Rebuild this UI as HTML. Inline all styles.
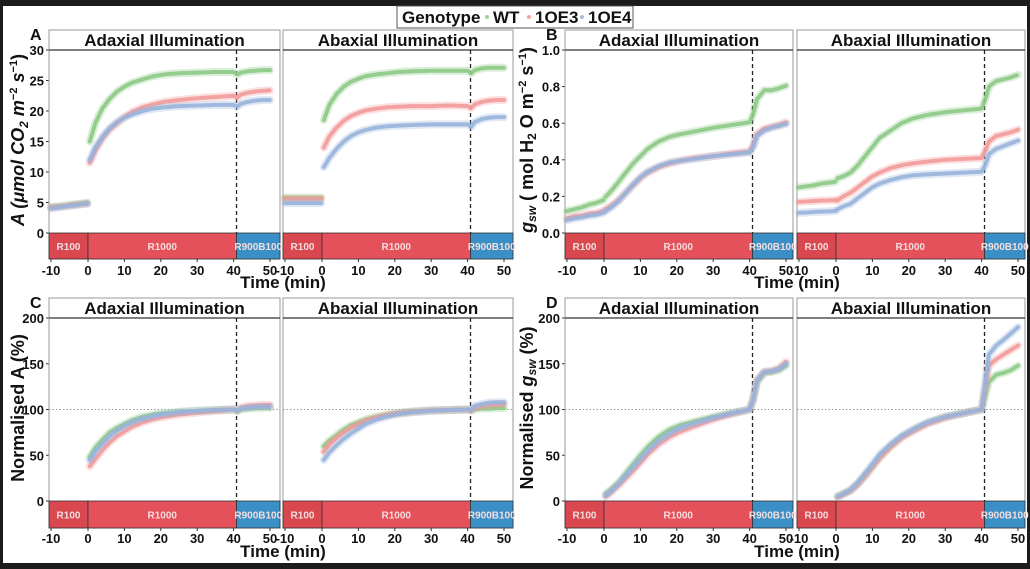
<!DOCTYPE html>
<html><head><meta charset="utf-8">
<style>
html,body{margin:0;padding:0;background:#1c1c1c;}
svg{display:block;font-family:"Liberation Sans",Arial,sans-serif;}
</style></head>
<body>
<svg id="chart" width="1030" height="569" viewBox="0 0 1030 569" xmlns="http://www.w3.org/2000/svg">
<rect x="3" y="6" width="1024" height="557" fill="#ffffff"/>
<g>
<rect x="397" y="6" width="236" height="22" fill="#fff" stroke="#555" stroke-width="1"/>
<text x="402" y="23" font-size="17" font-weight="bold" fill="#111">Genotype</text>
<circle cx="487" cy="17" r="2" fill="#9fd09a"/>
<text x="493" y="23" font-size="17" font-weight="bold" fill="#111">WT</text>
<circle cx="529" cy="17" r="2" fill="#f3a3a3"/>
<text x="535" y="23" font-size="17" font-weight="bold" fill="#111">1OE3</text>
<circle cx="582" cy="17" r="2" fill="#a6bde0"/>
<text x="588" y="23" font-size="17" font-weight="bold" fill="#111">1OE4</text>
</g>
</svg>
<script>
// shared time points (min)
const times = [-10,-8,-6,-4,-2,-0.2, 0.5,2,4,6,8,10,12,15,18,21,25,30,35,40,41,42,44,46,48,50];
const genotypes = ["WT","1OE3","1OE4"];
const xTicks = [-10,0,10,20,30,40,50];
const yTicksA = [0,5,10,15,20,25,30];
const yTicksB = [0,0.2,0.4,0.6,0.8,1.0];
const yTicksN = [0,50,100,150,200];

// Panel A: net assimilation
const A_ad_WT   = [4.3,4.4,4.5,4.7,4.8,5.0, 15,18,20.5,22,23.2,24,24.6,25.2,25.7,26,26.2,26.3,26.4,26.4, 26,26.3,26.5,26.6,26.7,26.7];
const A_ad_1OE3 = [4.2,4.3,4.4,4.6,4.7,4.8, 11.5,13.5,15.5,17,18,19,19.8,20.6,21.1,21.5,21.8,22.1,22.3,22.5, 22.2,22.7,23,23.2,23.3,23.4];
const A_ad_1OE4 = [4.0,4.2,4.4,4.5,4.7,4.8, 12,14,15.8,17.2,18.2,18.9,19.4,20,20.4,20.6,20.8,20.9,21,21, 20.7,21.2,21.5,21.7,21.8,21.8];
const A_ab_WT   = [5.8,5.8,5.8,5.8,5.8,5.8, 18.5,21,22.8,24,24.8,25.3,25.7,26,26.2,26.4,26.5,26.6,26.6,26.6, 26.2,26.7,27,27.1,27.1,27.1];
const A_ab_1OE3 = [5.6,5.6,5.6,5.6,5.6,5.6, 14,15.8,17.3,18.4,19.2,19.7,20.1,20.4,20.6,20.7,20.8,20.8,20.9,20.8, 20.5,21.1,21.5,21.7,21.8,21.8];
const A_ab_1OE4 = [4.9,4.9,4.9,4.9,4.9,4.9, 10.8,12.3,13.8,15,15.9,16.5,16.9,17.3,17.5,17.6,17.7,17.8,17.8,17.8, 17.4,18.2,18.7,18.9,19,19];
// Panel B: stomatal conductance
const B_ad_WT   = [0.12,0.13,0.14,0.155,0.165,0.18, 0.2,0.23,0.28,0.33,0.38,0.42,0.46,0.5,0.525,0.54,0.555,0.575,0.59,0.605, 0.65,0.73,0.78,0.78,0.79,0.805];
const B_ad_1OE3 = [0.08,0.09,0.095,0.105,0.11,0.12, 0.13,0.15,0.18,0.22,0.26,0.3,0.33,0.36,0.38,0.395,0.41,0.42,0.435,0.445, 0.48,0.54,0.57,0.58,0.59,0.605];
const B_ad_1OE4 = [0.07,0.08,0.085,0.095,0.1,0.11, 0.12,0.14,0.175,0.22,0.265,0.305,0.335,0.365,0.385,0.395,0.405,0.42,0.43,0.44, 0.47,0.53,0.56,0.575,0.585,0.595];
const B_ab_WT   = [0.25,0.255,0.26,0.27,0.275,0.28, 0.3,0.31,0.33,0.37,0.42,0.47,0.52,0.56,0.6,0.625,0.645,0.66,0.67,0.68, 0.73,0.8,0.83,0.84,0.85,0.865];
const B_ab_1OE3 = [0.17,0.172,0.175,0.177,0.178,0.18, 0.18,0.2,0.22,0.25,0.28,0.31,0.33,0.355,0.37,0.38,0.39,0.4,0.405,0.41, 0.45,0.5,0.53,0.54,0.55,0.565];
const B_ab_1OE4 = [0.11,0.112,0.115,0.117,0.118,0.12, 0.13,0.145,0.16,0.19,0.22,0.25,0.27,0.29,0.305,0.315,0.32,0.325,0.33,0.335, 0.37,0.43,0.46,0.475,0.49,0.505];
// Panel C: normalised A (%)
const C_ad_WT   = [null,null,null,null,null,null, 48,58,67,75,80,84,88,92,94.5,96,97.5,98.5,99.5,100, 98,100,101,101.5,102,102];
const C_ad_1OE3 = [null,null,null,null,null,null, 38,46,56,64,71,76,81,86,89.5,92,94.5,96.5,98.5,100, 99,102,104,104.5,105,105];
const C_ad_1OE4 = [null,null,null,null,null,null, 45,54,63,71,77,82,86,90,93,95,97,98.5,99.5,100, 99,101,102,103,103,103];
const C_ab_WT   = [null,null,null,null,null,null, 60,66,72,78,83,86,89,92,94.5,96.5,98,99,99.5,100, 99,100,101,101,101.5,101.5];
const C_ab_1OE3 = [null,null,null,null,null,null, 54,62,69,75,80,84,88,91.5,94,96,97.5,99,99.5,100, 99,102,104,105,105.5,106];
const C_ab_1OE4 = [null,null,null,null,null,null, 45,53,61,68,74,79,84,89,92.5,95,97,98.5,99.5,100, 100,104,106,107.5,108,108];
// Panel D: normalised gsw (%)
const D_ad_WT   = [null,null,null,null,null,null, 8,13,20,30,40,50,59,70,78,83,87,92,96,100, 110,130,140,141,143,148];
const D_ad_1OE3 = [null,null,null,null,null,null, 5,10,17,25,33,42,51,62,70,76,82,89,95,100, 112,132,141,142,145,152];
const D_ad_1OE4 = [null,null,null,null,null,null, 6,11,19,28,37,46,55,66,74,80,85,91,96,100, 111,131,141,142,144,150];
const D_ab_WT   = [null,null,null,null,null,null, 5,8,12,19,28,38,48,60,70,77,85,92,96,100, 115,130,138,140,143,148];
const D_ab_1OE3 = [null,null,null,null,null,null, 4,7,11,18,27,37,47,59,69,76,84,91,96,100, 125,148,155,160,165,170];
const D_ab_1OE4 = [null,null,null,null,null,null, 5,8,12,20,30,40,51,62,71,78,86,92,96,100, 130,160,170,176,183,190];

const colors = {"WT":"#8cc985","1OE3":"#f29a9a","1OE4":"#98b4dc"};
const NS = "http://www.w3.org/2000/svg";
const svg = document.getElementById("chart");
function el(tag, attrs, parent, txt){
  const e = document.createElementNS(NS, tag);
  for (const k in attrs) e.setAttribute(k, attrs[k]);
  if (txt !== undefined) e.textContent = txt;
  (parent||svg).appendChild(e);
  return e;
}

const rows = [
  {top:50, bottom:233, barBot:259, strip:30, tickY:275, titleY:287},
  {top:318, bottom:501, barBot:528, strip:298, tickY:543, titleY:556}
];
const facetX = [[49,280],[283,513],[565,793],[797,1025]];

function makeX(left){
  return t => t < 0 ? left + 39 + t*3.7 : left + 39 + t*3.64;
}

const panels = [
  {key:"A", row:0, facets:[0,1], ymax:30, ticks:yTicksA, fmt:v=>String(v),
   series:[[A_ad_WT,A_ad_1OE3,A_ad_1OE4],[A_ab_WT,A_ab_1OE3,A_ab_1OE4]], ref:false},
  {key:"B", row:0, facets:[2,3], ymax:1.0, ticks:yTicksB, fmt:v=>v.toFixed(1),
   series:[[B_ad_WT,B_ad_1OE3,B_ad_1OE4],[B_ab_WT,B_ab_1OE3,B_ab_1OE4]], ref:false},
  {key:"C", row:1, facets:[0,1], ymax:200, ticks:yTicksN, fmt:v=>String(v),
   series:[[C_ad_WT,C_ad_1OE3,C_ad_1OE4],[C_ab_WT,C_ab_1OE3,C_ab_1OE4]], ref:true},
  {key:"D", row:1, facets:[2,3], ymax:200, ticks:yTicksN, fmt:v=>String(v),
   series:[[D_ad_WT,D_ad_1OE3,D_ad_1OE4],[D_ab_WT,D_ab_1OE3,D_ab_1OE4]], ref:true}
];
const facetTitles = ["Adaxial Illumination","Abaxial Illumination"];

panels.forEach(p => {
  const r = rows[p.row];
  const g = el("g", {});
  
  
  const y = v => r.bottom - v/p.ymax*(r.bottom - r.top);
  const lx = facetX[p.facets[0]][0] - 19;
  const lt = el("text", {x:lx, y:r.strip+10, "font-size":16, "font-weight":"bold", fill:"#111"}, g, p.key);
  
  
  const left0 = facetX[p.facets[0]][0];
  p.ticks.forEach(v => {
    const tt = el("text", {x:left0-5, y:y(v)+5, "font-size":13, "font-weight":"bold", "text-anchor":"end", fill:"#111"}, g, p.fmt(v));
    
    
    el("line", {x1:left0-3, x2:left0, y1:y(v), y2:y(v), stroke:"#333", "stroke-width":1}, g);
  });
  p.facets.forEach((fi, k) => {
    const [L, R] = facetX[fi];
    const X = makeX(L);
    const fg = el("g", {}, g);
    
    
    el("rect", {x:L, y:r.strip, width:R-L, height:r.top-r.strip, fill:"#fff", stroke:"#999", "stroke-width":1}, fg);
    const st = el("text", {x:(L+R)/2, y:r.top-4, "font-size":17, "font-weight":"bold", "text-anchor":"middle", fill:"#111"}, fg, facetTitles[k]);
    
    
    el("rect", {x:L, y:r.top, width:R-L, height:r.barBot-r.top, fill:"#fff", stroke:"#999", "stroke-width":1}, fg);
    el("line", {x1:L, x2:R, y1:r.top, y2:r.top, stroke:"#333", "stroke-width":1.3}, fg);
    const xd = X(40.8);
    const b1 = el("rect", {x:L, y:r.bottom, width:X(0)-L, height:r.barBot-r.bottom, fill:"#d9474f", stroke:"#333", "stroke-width":0.8}, fg);
    
    
    const b2 = el("rect", {x:X(0), y:r.bottom, width:xd-X(0), height:r.barBot-r.bottom, fill:"#e5515a", stroke:"#333", "stroke-width":0.8}, fg);
    
    
    const b3 = el("rect", {x:xd, y:r.bottom, width:R-xd, height:r.barBot-r.bottom, fill:"#3a8fc7", stroke:"#333", "stroke-width":0.8}, fg);
    
    
    const mid = (r.bottom + r.barBot)/2 + 4;
    [["R100",(L+X(0))/2],["R1000",(X(0)+xd)/2],["R900B100",(xd+R)/2]].forEach(([t,cx]) => {
      const bt = el("text", {x:cx, y:mid, "font-size":10, "font-weight":"bold", "text-anchor":"middle", fill:"#f4dede"}, fg, t);
      
      
    });
    if (p.ref) el("line", {x1:L, x2:R, y1:y(100), y2:y(100), stroke:"#999", "stroke-width":1, "stroke-dasharray":"1.5,2"}, fg);
    el("line", {x1:xd, x2:xd, y1:r.top, y2:r.bottom, stroke:"#222", "stroke-width":1.3, "stroke-dasharray":"4,3"}, fg);
    genotypes.forEach((gname, gi) => {
      const vals = p.series[k][gi];
      const segs = [[],[]];
      times.forEach((t, i) => {
        if (vals[i] === null) return;
        segs[t < 0 ? 0 : 1].push(X(t).toFixed(1) + "," + y(vals[i]).toFixed(1));
      });
      segs.forEach(s => {
        if (s.length < 2) return;
        el("polyline", {points:s.join(" "), fill:"none", stroke:colors[gname], "stroke-width":8, "stroke-opacity":0.3, "stroke-linecap":"round", "stroke-linejoin":"round"}, fg);
        const ln = el("polyline", {points:s.join(" "), fill:"none", stroke:colors[gname], "stroke-width":4, "stroke-opacity":0.9, "stroke-linecap":"round", "stroke-linejoin":"round", "stroke-dasharray":"3,1.2"}, fg);
        
        
      });
    });
    xTicks.forEach(t => {
      el("line", {x1:X(t), x2:X(t), y1:r.barBot, y2:r.barBot+3, stroke:"#333", "stroke-width":1}, fg);
      const xt = el("text", {x:X(t), y:r.tickY, "font-size":13, "font-weight":"bold", "text-anchor":"middle", fill:"#111"}, fg, String(t));
      
      
    });
  });
  const xr = facetX[p.facets[1]][0];
  const xtitle = el("text", {x:xr, y:r.titleY+1, "font-size":17, "font-weight":"bold", "text-anchor":"middle", fill:"#111"}, g, "Time (min)");
  
  
});

function ytitle(cx, cy, html, name){
  const t = el("text", {x:0, y:0, transform:`translate(${cx},${cy}) rotate(-90)`, "font-size":18, "font-weight":"bold", "text-anchor":"middle", fill:"#111"});
  t.innerHTML = html;
  
  
}
ytitle(24, 140, '<tspan font-style="italic">A (μmol CO</tspan><tspan font-style="italic" font-size="12" dy="4">2</tspan><tspan font-style="italic" dy="-4"> m</tspan><tspan font-size="11" dy="-7">−2</tspan><tspan font-style="italic" dy="7"> s</tspan><tspan font-size="11" dy="-7">−1</tspan><tspan dy="7">)</tspan>', "y-axis-title-a");
ytitle(533, 140, '<tspan font-style="italic">g</tspan><tspan font-style="italic" font-size="12" dy="3">sw</tspan><tspan dy="-3"> ( mol H</tspan><tspan font-size="12" dy="3">2</tspan><tspan dy="-3"> O m</tspan><tspan font-size="11" dy="-7">−2</tspan><tspan dy="7"> s</tspan><tspan font-size="11" dy="-7">−1</tspan><tspan dy="7">)</tspan>', "y-axis-title-b");
ytitle(24, 408, 'Normalised A (%)', "y-axis-title-c");
ytitle(533, 408, 'Normalised <tspan font-style="italic">g</tspan><tspan font-style="italic" font-size="12" dy="3">sw</tspan><tspan dy="-3"> (%)</tspan>', "y-axis-title-d");
</script>
</body></html>
